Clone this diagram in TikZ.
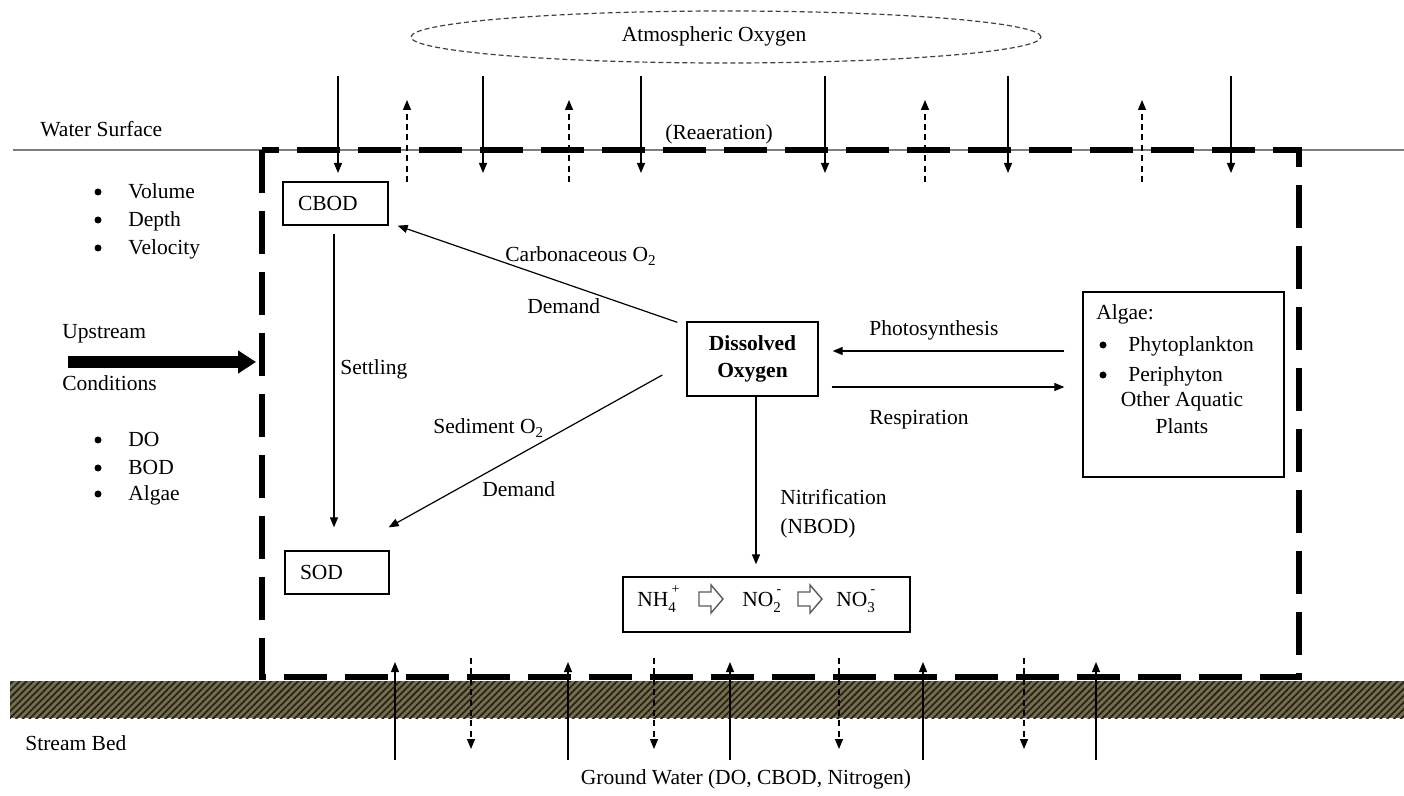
\documentclass[tikz,border=0pt]{standalone}
\usepackage{fontspec}
\setmainfont{Liberation Serif}
\usetikzlibrary{arrows.meta,shapes.geometric,patterns.meta,calc}
\definecolor{bedbase}{RGB}{118,110,78}
\definecolor{bedline}{RGB}{38,36,22}
\definecolor{surf}{RGB}{125,125,125}
\definecolor{hollow}{RGB}{90,90,90}
\newcommand{\ionsc}[2]{\rlap{\hspace{0.15em}\raisebox{1.35ex}{\fontsize{7}{7}\selectfont #2}}\raisebox{-0.6ex}{\fontsize{7.5}{7.5}\selectfont #1}}
\begin{document}
\begin{tikzpicture}[x=0.5pt,y=-0.5pt,
  every node/.style={font=\fontsize{10.75}{13.5}\selectfont, inner sep=0pt},
  txt/.style={anchor=base west},
  ctxt/.style={anchor=base},
  bul/.style={circle, fill, inner sep=0pt, minimum size=3.5pt},
  box/.style={draw, line width=0.65pt},
  lbox/.style={box, inner xsep=7.5pt, align=left, minimum height=21.5pt},
  arr/.style={-{Triangle[length=5pt,width=4pt]}, line width=0.6pt},
  darr/.style={arr, dash pattern=on 3pt off 2.2pt},
  bigarr/.style={-{Triangle[length=9pt,width=11pt]}, line width=6pt},
  cvbox/.style={draw, line width=2.6pt, dash pattern=on 21.5pt off 9pt},
  hollowarr/.style={draw=hollow, line width=0.7pt, fill=white}
]
\useasboundingbox (0,0) rectangle (1404,796);

% atmosphere
\node[draw=black!75, ellipse, line width=0.6pt, dash pattern=on 2.5pt off 1.5pt,
      minimum width=315pt, minimum height=26pt] (atm) at (726,37) {};
\node (atmT) at (714,36) {Atmospheric Oxygen};

% water surface
\coordinate (wsL) at (13,150);
\coordinate (wsR) at (1404,150);
\draw[surf, line width=0.6pt] (wsL) -- (wsR);
\node[txt] (ws) at (40,137) {Water Surface};
\node[txt] (rea) at (665,140) {(Reaeration)};

% stream bed
\fill[bedbase] (10,681) rectangle (1404,718);
\fill[pattern={Lines[angle=45,distance=2.4pt,line width=0.9pt]}, pattern color=bedline] (10,681) rectangle (1404,718);
\node[txt] (sb) at (25,750) {Stream Bed};
\node[ctxt] (gw) at (746,784) {Ground Water (DO, CBOD, Nitrogen)};

% control volume
\draw[cvbox] (262,150) rectangle (1299,677);

% reaeration arrows
\foreach \x [count=\i] in {338,483,641,825,1008,1231}{
  \coordinate (ra\i) at (\x,76);
  \coordinate (rb\i) at (\x,173);
  \draw[arr] (ra\i) -- (rb\i);
}
\foreach \x [count=\i] in {407,569,925,1142}{
  \coordinate (ua\i) at (\x,182);
  \coordinate (ub\i) at (\x,100);
  \draw[darr] (ua\i) -- (ub\i);
}
% ground water arrows
\foreach \x [count=\i] in {395,568,730,923,1096}{
  \coordinate (ga\i) at (\x,760);
  \coordinate (gb\i) at (\x,662);
  \draw[arr] (ga\i) -- (gb\i);
}
\foreach \x [count=\i] in {471,654,839,1024}{
  \coordinate (da\i) at (\x,658);
  \coordinate (db\i) at (\x,749);
  \draw[darr] (da\i) -- (db\i);
}

% left side text
\foreach \y/\t [count=\i] in {199/Volume,227/Depth,255/Velocity,447/DO,475/BOD,501/Algae}{
  \node[bul] (bl\i) at (98,\y-7) {};
  \node[txt] (lt\i) at (128,\y) {\t};
}
\node[txt] (up) at (62,339) {Upstream};
\node[txt] (cond) at (62,391) {Conditions};
\coordinate (upA) at (68,362);
\coordinate (upB) at (256,362);
\draw[bigarr] (upA) -- (upB);

% boxes
\node[lbox, text width=37.5pt, minimum width=52.5pt] (cbod) at (335.5,203.5) {CBOD};
\node[lbox, text width=37pt, minimum width=52pt] (sod) at (337,572.5) {SOD};
\node[box, minimum width=65.5pt, minimum height=37pt, align=center, font=\fontsize{10.75}{13.5}\selectfont\bfseries] (do) at (752.5,359) {Dissolved\\Oxygen};
\node[box, minimum width=100.5pt, minimum height=92.5pt] (alg) at (1183.5,384.5) {};
\node[box, minimum width=143.5pt, minimum height=27.5pt] (nh) at (766.5,604.5) {};

% algae box content
\node[txt] (algT) at (1096,320) {Algae:};
\node[bul] (algB1) at (1103,345) {};
\node[txt] (algP1) at (1128,352) {Phytoplankton};
\node[bul] (algB2) at (1103,375) {};
\node[txt] (algP2) at (1128,382) {Periphyton};
\node[ctxt] (algO) at (1182,407) {Other Aquatic};
\node[ctxt] (algPl) at (1182,434) {Plants};

% nitrogen chain
\node[txt] (nh4) at (637,607) {NH\ionsc{4}{+}};
\draw[hollowarr] (699,592) -- (711,592) -- (711,585) -- (723,599) -- (711,613) -- (711,606) -- (699,606) -- cycle;
\node[txt] (no2) at (742,607) {NO\ionsc{2}{-}};
\draw[hollowarr] (798,592) -- (810,592) -- (810,585) -- (822,599) -- (810,613) -- (810,606) -- (798,606) -- cycle;
\node[txt] (no3) at (836,607) {NO\ionsc{3}{-}};

% process arrows
\draw[arr] ($(do.north west)+(-9,1)$) -- ($(cbod.south east)+(9,0)$);
\draw[arr] ($(do.west)+(-24,16)$) -- ($(sod.north east)+(-1,-23)$);
\draw[arr] ($(cbod.south)+(-1.5,8)$) -- ($(sod.north)+(-3,-23)$);
\draw[arr] ($(alg.west)+(-18,-33.5)$) -- ($(do.east)+(14,-8)$);
\draw[arr] ($(do.east)+(13,28)$) -- ($(alg.west)+(-18,2.5)$);
\draw[arr] ($(do.south)+(3.5,0)$) -- ($(nh.north)+(-10.5,-12)$);

% labels
\node[txt] (lc1) at (505,262) {Carbonaceous O\textsubscript{2}};
\node[txt] (lc2) at (527,314) {Demand};
\node[txt] (ls1) at (433,434) {Sediment O\textsubscript{2}};
\node[txt] (ls2) at (482,497) {Demand};
\node[txt] (lset) at (340,375) {Settling};
\node[txt] (lph) at (869,336) {Photosynthesis};
\node[txt] (lre) at (869,425) {Respiration};
\node[txt] (lni) at (780,505) {Nitrification};
\node[txt] (lnb) at (780,534) {(NBOD)};
\end{tikzpicture}
\end{document}
